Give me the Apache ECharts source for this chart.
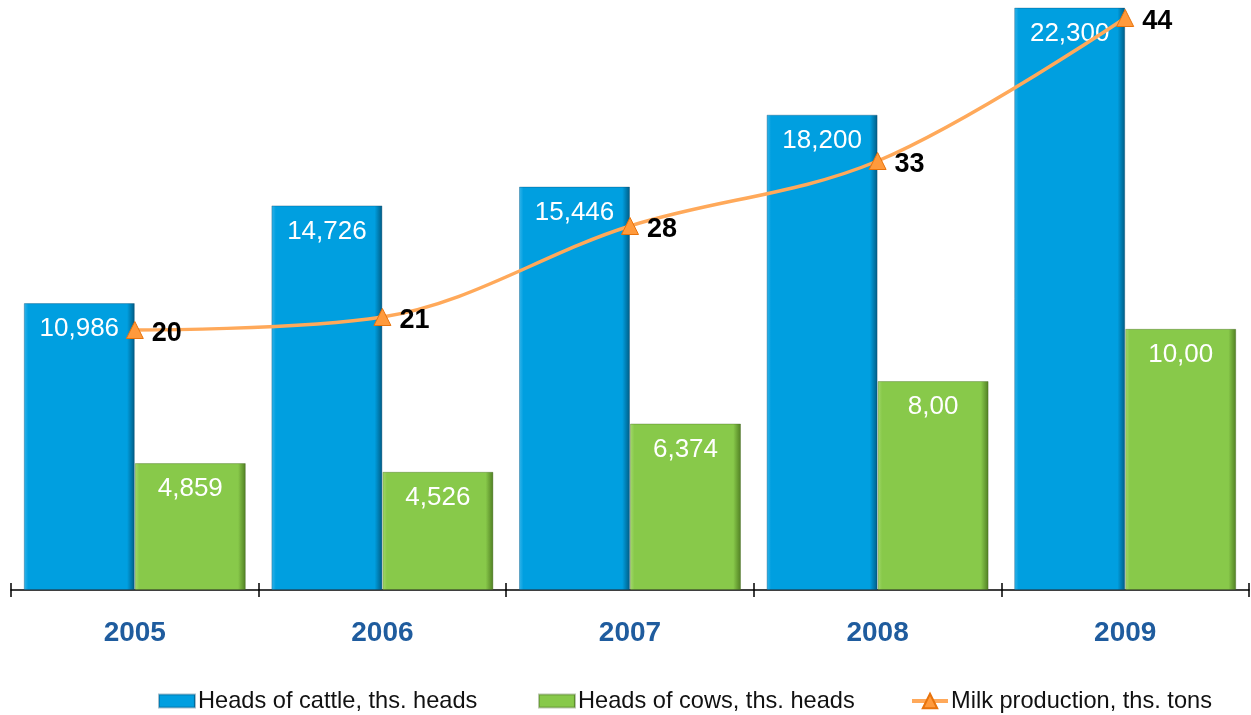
<!DOCTYPE html>
<html>
<head>
<meta charset="utf-8">
<script src="https://cdn.jsdelivr.net/npm/echarts@6/dist/echarts.min.js"></script>
<style>
  html, body { margin: 0; padding: 0; background: #ffffff; }
  #chart { width: 1251px; height: 715px; }
</style>
</head>
<body>
<div id="chart"></div>
<script>
// Livestock and milk production by year
const years = ['2005', '2006', '2007', '2008', '2009'];
// thousands of heads, written with a decimal comma on the labels
const cattle = ['10.986', '14.726', '15.446', '18.200', '22.300'];
const cows = ['4.859', '4.526', '6.374', '8.00', '10.00'];
// thousand tons
const milk = [20, 21, 28, 33, 44];

const seriesNames = [
  'Heads of cattle, ths. heads',
  'Heads of cows, ths. heads',
  'Milk production, ths. tons'
];

const FONT = '"Liberation Sans", Arial, sans-serif';

function bevel(light, mid, dark) {
  return new echarts.graphic.LinearGradient(0, 0, 1, 0, [
    { offset: 0, color: light },
    { offset: 0.04, color: mid },
    { offset: 0.93, color: mid },
    { offset: 1, color: dark }
  ]);
}

const toData = arr => arr.map(s => ({ value: parseFloat(s), text: s.replace('.', ',') }));

const barLabel = {
  show: true,
  position: 'insideTop',
  distance: 13,
  color: '#ffffff',
  fontFamily: FONT,
  fontSize: 26,
  formatter: p => p.data.text
};

// one legend block per series, placed along the bottom row
const legendStarts = [153, 533, 905];
const legends = seriesNames.map((name, i) => ({
  left: legendStarts[i],
  top: 684,
  itemWidth: 36,
  itemHeight: i < 2 ? 13 : 18,
  itemGap: 0,
  lineStyle: { width: 4 },
  textStyle: { fontFamily: FONT, fontSize: 23.6, color: '#111111', padding: [0, 0, 0, -2] },
  data: [i < 2 ? { name, icon: 'rect' } : { name }]
}));

const chart = echarts.init(document.getElementById('chart'), null, { renderer: 'canvas' });

chart.setOption({
  animation: false,
  textStyle: { fontFamily: FONT },
  grid: { left: 11, right: 2, top: 5, bottom: 125 },
  legend: legends,
  xAxis: [
    {
      type: 'category',
      data: years,
      axisLine: { lineStyle: { color: '#000000', width: 1.5 } },
      axisTick: { show: true, length: 7, lineStyle: { color: '#000000', width: 1.5 } },
      axisLabel: {
        margin: 29,
        color: '#1f5c9e',
        fontFamily: FONT,
        fontSize: 28,
        fontWeight: 'bold'
      }
    },
    {
      type: 'category',
      data: years,
      position: 'bottom',
      axisLine: { show: false },
      axisTick: { show: true, inside: true, length: 7, lineStyle: { color: '#000000', width: 1.5 } },
      axisLabel: { show: false }
    }
  ],
  yAxis: [
    { type: 'value', min: 0, max: 22.4, show: false, splitLine: { show: false } },
    { type: 'value', min: 0, max: 45, show: false, splitLine: { show: false } }
  ],
  series: [
    {
      name: seriesNames[0],
      type: 'bar',
      data: toData(cattle),
      barWidth: 111,
      barGap: '0%',
      itemStyle: {
        color: bevel('#35b5ea', '#009fe0', '#005a82'),
        borderColor: 'rgba(0,70,110,0.35)',
        borderWidth: 1
      },
      label: barLabel
    },
    {
      name: seriesNames[1],
      type: 'bar',
      data: toData(cows),
      barWidth: 111,
      barGap: '0%',
      itemStyle: {
        color: bevel('#a3d96c', '#88c94a', '#4f7d22'),
        borderColor: 'rgba(60,95,25,0.35)',
        borderWidth: 1
      },
      label: barLabel
    },
    {
      name: seriesNames[2],
      type: 'line',
      yAxisIndex: 1,
      data: milk,
      smooth: 0.35,
      symbol: 'triangle',
      symbolSize: 17,
      z: 5,
      lineStyle: { color: '#ffa95a', width: 3.5 },
      itemStyle: { color: '#ff9a3c', borderColor: '#e8730c', borderWidth: 1 },
      label: {
        show: true,
        position: 'right',
        distance: 8,
        color: '#000000',
        fontFamily: FONT,
        fontSize: 27,
        fontWeight: 'bold',
        offset: [0, 4]
      }
    }
  ]
});
</script>
</body>
</html>
